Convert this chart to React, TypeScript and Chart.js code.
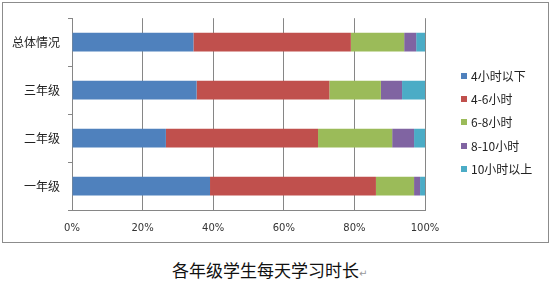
import React, { useEffect, useRef } from "react";
import { Chart, registerables } from "chart.js";

Chart.register(...registerables);

const categories = ["总体情况", "三年级", "二年级", "一年级"];
const seriesNames = ["4小时以下", "4-6小时", "6-8小时", "8-10小时", "10小时以上"];
const seriesColors = ["#4F81BD", "#C0504D", "#9BBB59", "#8064A2", "#4BACC6"];
const under4 = [34.4, 35.3, 26.6, 39.1];
const h4to6 = [44.6, 37.6, 43.1, 47.0];
const h6to8 = [15.1, 14.6, 21.0, 10.8];
const h8to10 = [3.4, 6.0, 6.2, 1.7];
const over10 = [2.5, 6.5, 3.1, 1.4];
const seriesValues = [under4, h4to6, h6to8, h8to10, over10];
const xTicks = [0, 20, 40, 60, 80, 100];
const titleText = "各年级学生每天学习时长";

const CJK = '"Noto Sans CJK SC", "DejaVu Sans", sans-serif';

export default function App() {
  const ref = useRef<HTMLCanvasElement | null>(null);

  useEffect(() => {
    if (!ref.current) return;
    const chart = new Chart(ref.current, {
      type: "bar",
      data: {
        labels: categories,
        datasets: seriesNames.map((name, i) => ({
          label: name,
          data: seriesValues[i],
          backgroundColor: seriesColors[i],
          borderWidth: 0,
          barPercentage: 0.39,
          categoryPercentage: 1,
        })),
      },
      options: {
        indexAxis: "y",
        animation: false,
        responsive: false,
        maintainAspectRatio: false,
        layout: { padding: { left: 0, top: 12, right: 122, bottom: 0 } },
        plugins: {
          legend: { display: false },
          tooltip: { enabled: false },
          title: { display: false },
        },
        scales: {
          x: {
            stacked: true,
            min: 0,
            max: 100,
            afterBuildTicks: (axis: any) => {
              axis.ticks = xTicks.map((v) => ({ value: v }));
            },
            afterFit: (axis: any) => {
              axis.height = 31;
            },
            grid: {
              color: "#868686",
              lineWidth: 1,
              drawTicks: false,
            },
            border: { color: "#868686", width: 1 },
            ticks: {
              padding: 12,
              color: "#333",
              font: { family: '"DejaVu Sans", sans-serif', size: 10 },
              callback: (v: any) => v + "%",
            },
          },
          y: {
            stacked: true,
            afterFit: (axis: any) => {
              axis.width = 69;
            },
            grid: {
              offset: true,
              drawOnChartArea: false,
              drawTicks: true,
              tickLength: 4,
              color: "#868686",
            },
            border: { color: "#868686", width: 1 },
            ticks: {
              padding: 8,
              color: "#222",
              font: { family: CJK, size: 12 },
            },
          },
        },
      },
    });
    return () => chart.destroy();
  }, []);

  return (
    <div style={{ position: "absolute", left: 0, top: 0, width: 550, height: 284, background: "#fff" }}>
      <div
        style={{
          position: "absolute",
          left: 2,
          top: 2,
          width: 547,
          height: 241,
          boxSizing: "border-box",
          border: "1px solid #8c8c8c",
        }}
      />
      <canvas
        ref={ref}
        width={544}
        height={238}
        style={{ position: "absolute", left: 3, top: 3, width: 544, height: 238 }}
      />
      {seriesNames.map((name, i) => (
        <div
          key={name}
          style={{
            position: "absolute",
            left: 461,
            top: 76 + i * 23.2 - 8,
            height: 16,
            lineHeight: "16px",
            fontFamily: CJK,
            fontSize: 12,
            color: "#222",
            whiteSpace: "nowrap",
            display: "flex",
            alignItems: "center",
          }}
        >
          <span style={{ display: "inline-block", width: 6, height: 6, background: seriesColors[i], marginRight: 4 }} />
          <span>{name}</span>
        </div>
      ))}
      <div
        style={{
          position: "absolute",
          left: 172,
          top: 260,
          height: 20,
          lineHeight: "20px",
          fontFamily: CJK,
          fontSize: 17,
          color: "#111",
          whiteSpace: "nowrap",
        }}
      >
        {titleText}
        <span style={{ fontSize: 10, color: "#999" }}>↵</span>
      </div>
    </div>
  );
}
